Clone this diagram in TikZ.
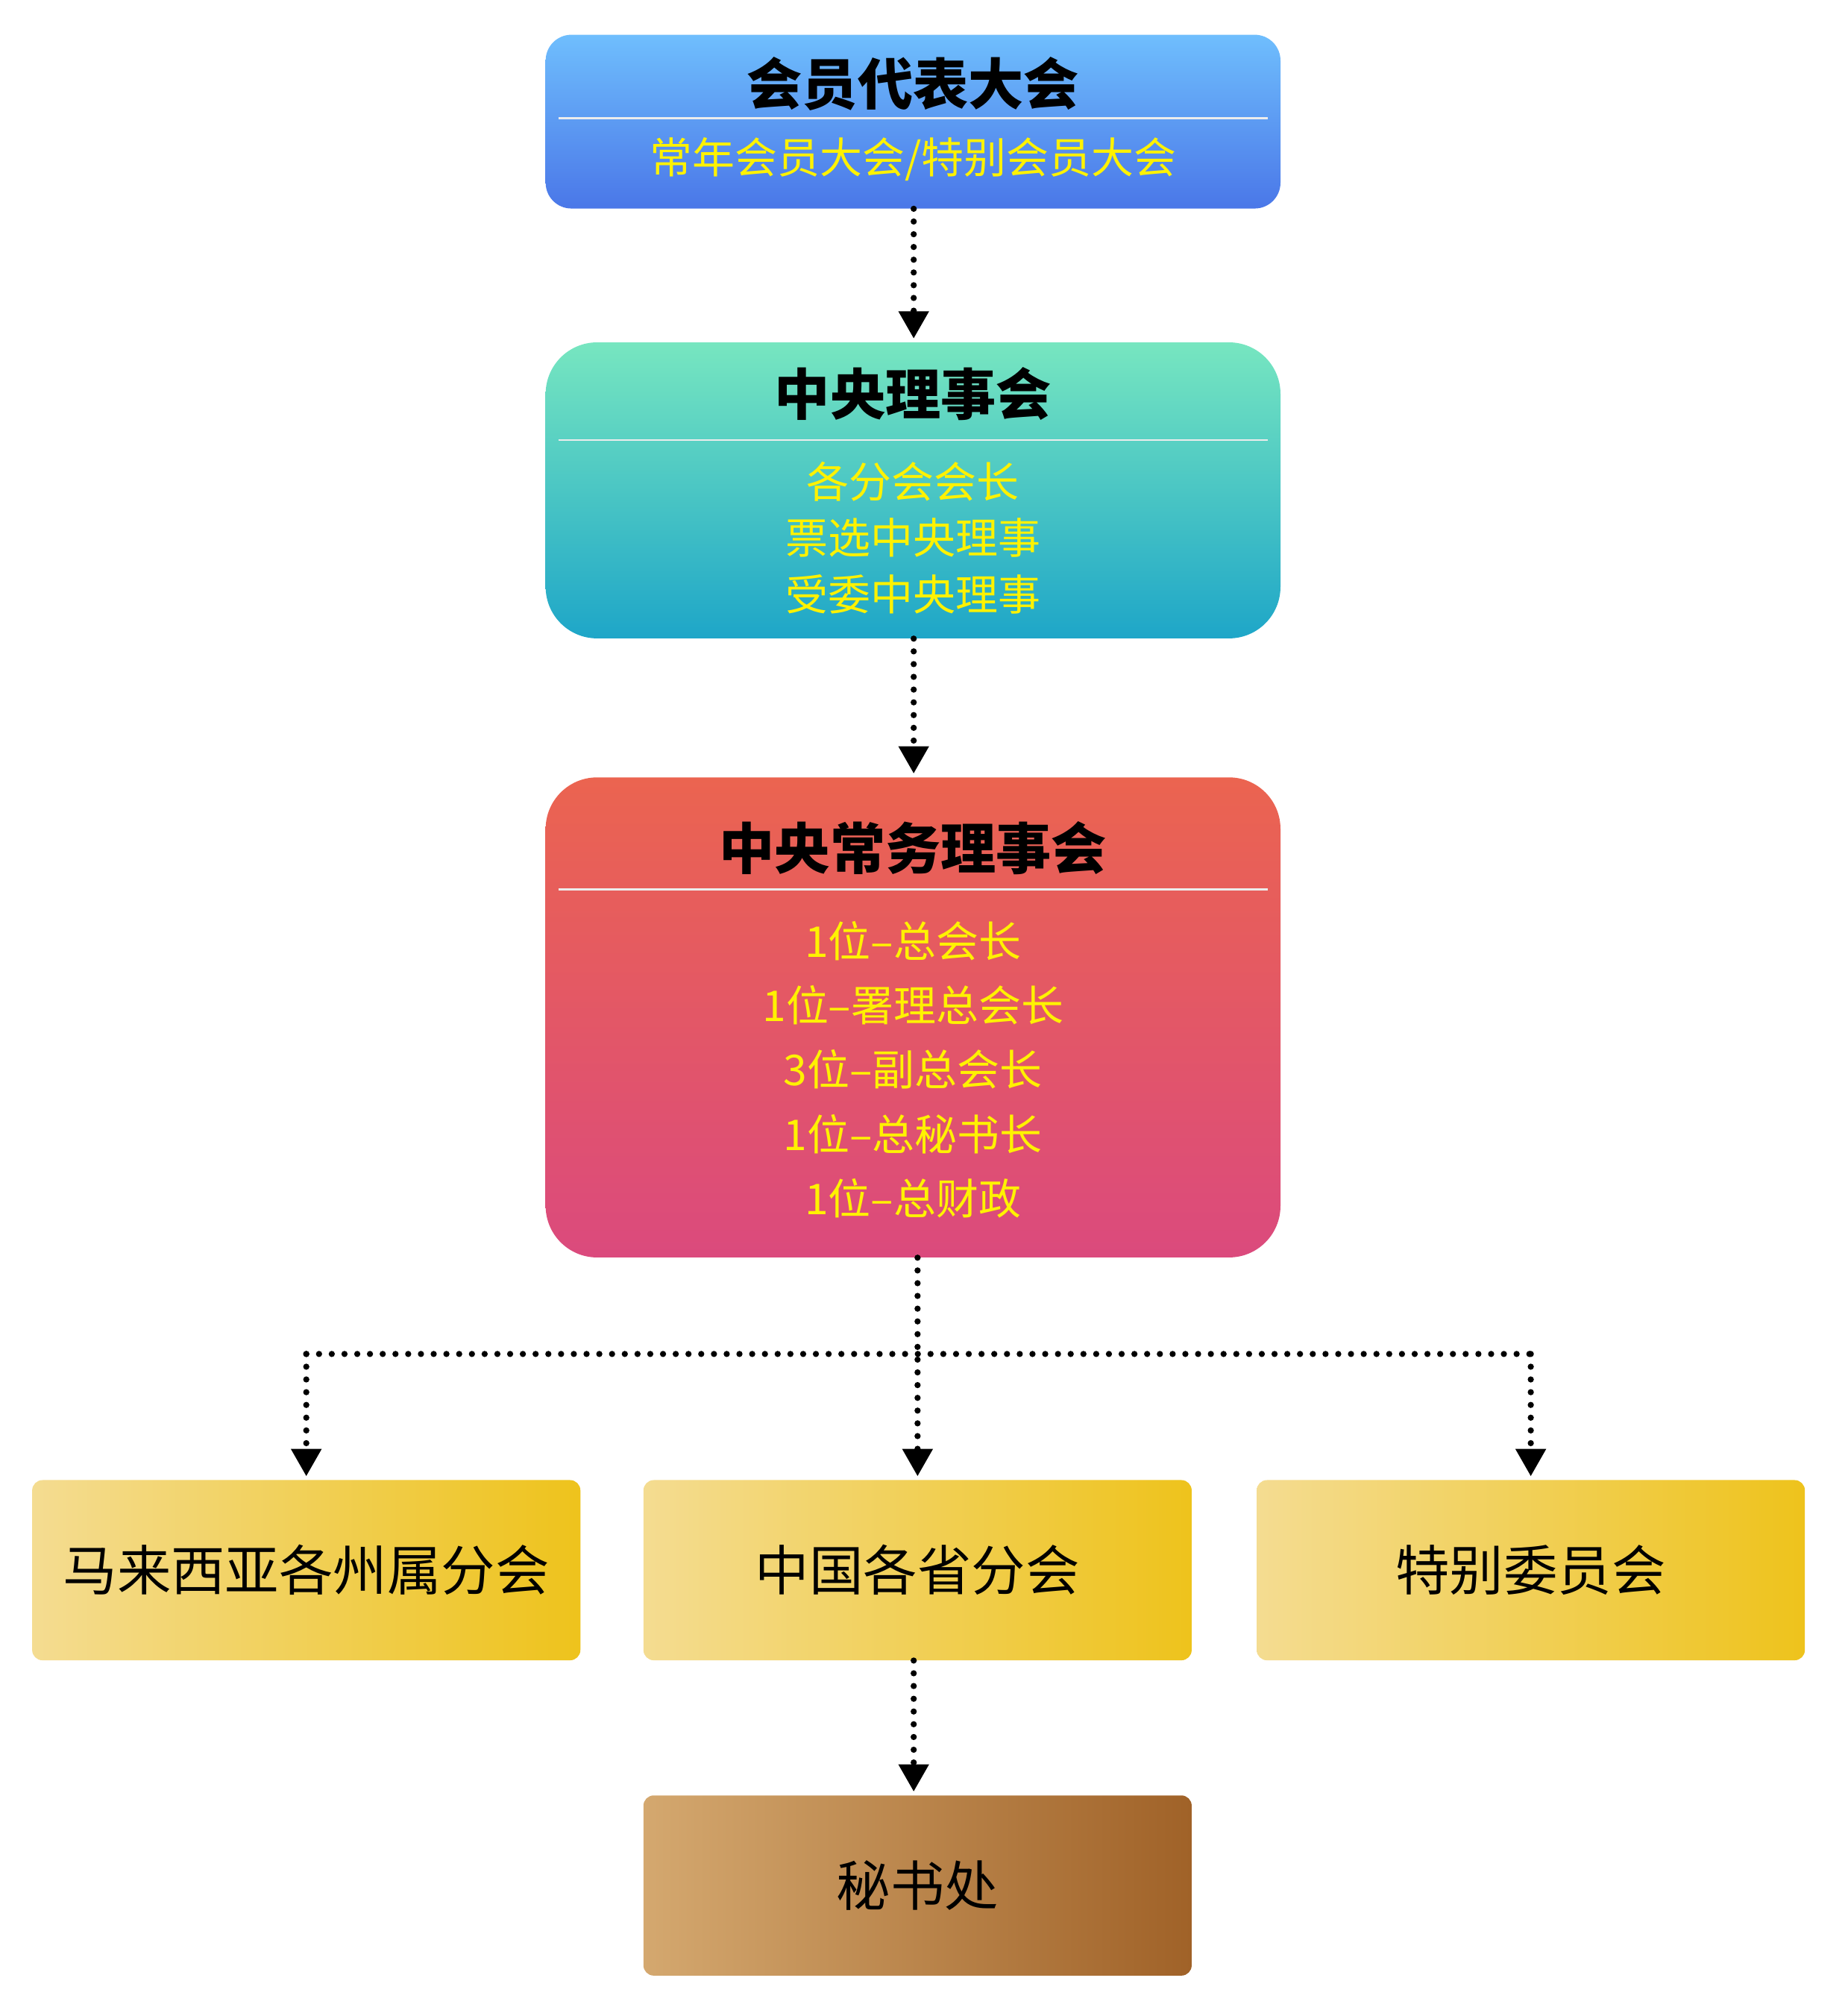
\documentclass[tikz,border=0pt]{standalone}
\usepackage{fontspec}
\newfontfamily\cjk{Noto Sans CJK SC}
\usetikzlibrary{arrows.meta}
\definecolor{bAtop}{HTML}{6FBEFD}
\definecolor{bAbot}{HTML}{4A77E8}
\definecolor{bBtop}{HTML}{77E6C0}
\definecolor{bBbot}{HTML}{1EA6C8}
\definecolor{bCtop}{HTML}{EB6450}
\definecolor{bCbot}{HTML}{DB4A7D}
\definecolor{yl}{HTML}{F4DC91}
\definecolor{yr}{HTML}{EEC31C}
\definecolor{sl}{HTML}{D4A86F}
\definecolor{sm}{HTML}{C4852F}
\definecolor{sr}{HTML}{A06228}
\definecolor{txtyellow}{HTML}{FFF200}
\tikzset{
  bigbox/.style={draw=none, inner sep=0pt, anchor=center},
  smallbox/.style={draw=none, inner sep=0pt, rounded corners=8pt, minimum width=426pt, minimum height=140pt, font=\cjk\fontsize{42}{48}\selectfont},
  titletext/.style={font=\cjk\bfseries\fontsize{43}{50}\selectfont, text=black, inner sep=0pt},
  subtext/.style={font=\cjk\fontsize{33}{38}\selectfont, text=txtyellow, inner sep=0pt},
  sepline/.style={draw=white!85!gray, line width=1.5pt},
  flow/.style={line width=4.8pt, dash pattern=on 0pt off 9.9pt, line cap=round},
  flowarrow/.style={flow, -{Triangle[width=24pt,length=21pt,line width=0pt,line cap=butt]}, shorten >=3pt},
}
\begin{document}
\begin{tikzpicture}[x=1pt,y=1pt]
\useasboundingbox (0,0) rectangle (1436,-1566.4);
% box 1
\node[bigbox, rounded corners=20pt, minimum width=571pt, minimum height=135pt, top color=bAtop, bottom color=bAbot] (b1) at (709.5,-94.5) {};
\node[titletext] (b1t) at (709.5,-65) {会员代表大会};
\draw[sepline] ([xshift=10pt]b1.west |- 0,-92) coordinate (s1a) -- ([xshift=-10pt]b1.east |- 0,-92) coordinate (s1b);
\node[subtext] (b1s) at (709.5,-124) {常年会员大会/特别会员大会};
% box 2
\node[bigbox, rounded corners=40pt, minimum width=571pt, minimum height=230pt, top color=bBtop, bottom color=bBbot] (b2) at (709.5,-381) {};
\node[titletext] (b2t) at (709.5,-306) {中央理事会};
\draw[sepline] ([xshift=10pt]b2.west |- 0,-342) coordinate (s2a) -- ([xshift=-10pt]b2.east |- 0,-342) coordinate (s2b);
\node[subtext] (b2s1) at (709.5,-374) {各分会会长};
\node[subtext] (b2s2) at (709.5,-418) {票选中央理事};
\node[subtext] (b2s3) at (709.5,-462) {受委中央理事};
% box 3
\node[bigbox, rounded corners=40pt, minimum width=571pt, minimum height=373pt, top color=bCtop, bottom color=bCbot] (b3) at (709.5,-790.5) {};
\node[titletext] (b3t) at (709.5,-659) {中央常务理事会};
\draw[sepline] ([xshift=10pt]b3.west |- 0,-691) coordinate (s3a) -- ([xshift=-10pt]b3.east |- 0,-691) coordinate (s3b);
\node[subtext] (b3s1) at (709.5,-731) {1位–总会长};
\node[subtext] (b3s2) at (709.5,-781) {1位–署理总会长};
\node[subtext] (b3s3) at (709.5,-831) {3位–副总会长};
\node[subtext] (b3s4) at (709.5,-881) {1位–总秘书长};
\node[subtext] (b3s5) at (709.5,-931) {1位–总财政};
% bottom boxes
\node[smallbox, left color=yl, right color=yr] (ma) at (238,-1220) {马来西亚各州属分会};
\node[smallbox, left color=yl, right color=yr] (cn) at (713,-1220) {中国各省分会};
\node[smallbox, left color=yl, right color=yr] (sp) at (1189.5,-1220) {特别委员会};
\node[smallbox, left color=sl, middle color=sm, right color=sr] (sec) at (713,-1465) {秘书处};
% connectors
\coordinate (jn) at (713,-1052);
\draw[flowarrow] (b1.south -| 710,0) -- (b2.north -| 710,0);
\draw[flowarrow] (b2.south -| 710,0) -- (b3.north -| 710,0);
\draw[flowarrow] (b3.south -| cn.north) -- (cn.north);
\draw[flow] (ma.north |- jn) -- (sp.north |- jn);
\draw[flowarrow] (ma.north |- jn) -- (ma.north);
\draw[flowarrow] (sp.north |- jn) -- (sp.north);
\draw[flowarrow] (cn.south -| 710,0) -- (sec.north -| 710,0);
\end{tikzpicture}
\end{document}
